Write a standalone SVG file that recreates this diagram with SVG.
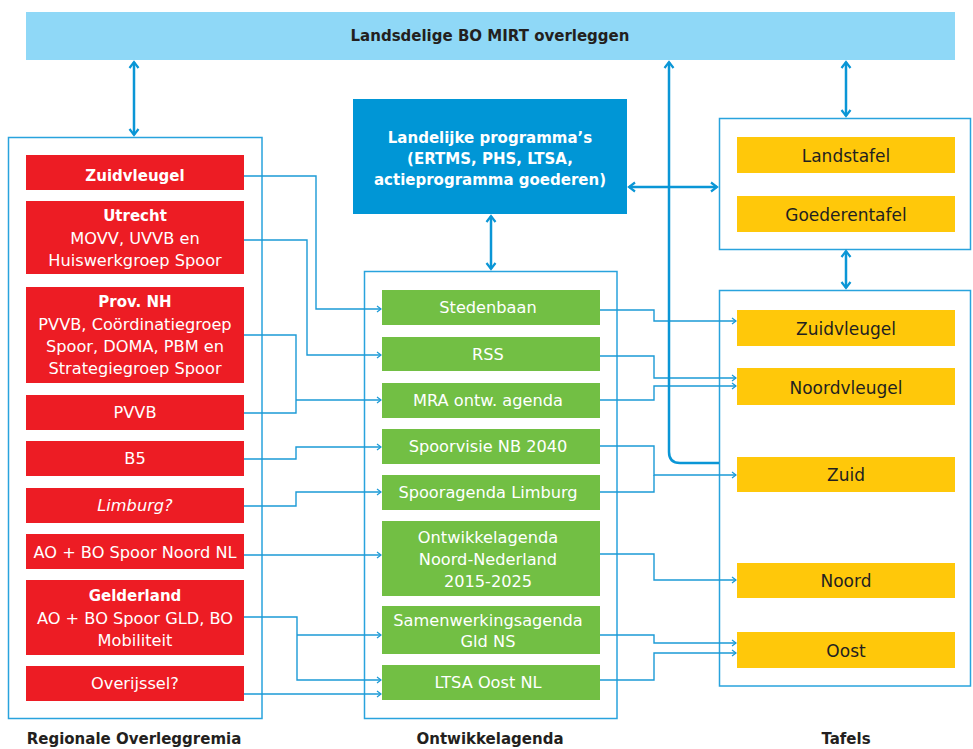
<svg xmlns="http://www.w3.org/2000/svg" width="973" height="749" viewBox="0 0 973 749">
<defs>
<style>
.r{fill:#ed1c24}
.g{fill:#72bf44}
.y{fill:#ffc80a}
.frame{fill:#fff;stroke:#29a3dd;stroke-width:1.5}
.tx{font-family:"DejaVu Sans","Open Sans","Liberation Sans",sans-serif;font-size:16.2px;text-anchor:middle;dominant-baseline:central}
.w{fill:#fff}
.d{fill:#231f20}
.b{font-weight:bold;font-size:15px}
.yt{font-size:17px}
.c{fill:none;stroke:#1b9ad6;stroke-width:1.4}
.ca{marker-end:url(#a)}
.t{fill:none;stroke:#0a96d6;stroke-width:2.5}
.tb{marker-start:url(#b);marker-end:url(#b)}
</style>
<marker id="a" markerWidth="7" markerHeight="8" refX="5.5" refY="4" orient="auto" markerUnits="userSpaceOnUse">
<path d="M1.5,1 L5.5,4 L1.5,7" fill="none" stroke="#1b9ad6" stroke-width="1.2"/>
</marker>
<marker id="b" markerWidth="12" markerHeight="12" refX="9.5" refY="6" orient="auto-start-reverse" markerUnits="userSpaceOnUse">
<path d="M3.5,1.5 L9.5,6 L3.5,10.5" fill="none" stroke="#0a96d6" stroke-width="2.2"/>
</marker>
</defs>
<rect width="973" height="749" fill="#fff"/>

<g id="top">
<rect x="26" y="12" width="929" height="48" fill="#8fd8f7"/>
<text class="tx d b" x="490" y="36">Landsdelige BO MIRT overleggen</text>
</g>

<g id="frames">
<rect id="regio-frame" class="frame" x="8.5" y="137.5" width="253.5" height="581"/>
<rect id="ontw-frame" class="frame" x="364.5" y="271.5" width="252.5" height="447"/>
<rect id="tafel-top-frame" class="frame" x="719.5" y="118.5" width="251" height="131"/>
<rect id="tafel-frame" class="frame" x="719.5" y="290.5" width="251" height="395.5"/>
</g>

<g id="landelijk">
<rect x="353" y="99" width="274" height="115" fill="#0096d6"/>
<text class="tx w b" x="490" y="137.5">Landelijke programma’s<tspan x="490" dy="21">(ERTMS, PHS, LTSA,</tspan><tspan x="490" dy="21">actieprogramma goederen)</tspan></text>
</g>

<g id="regionaal">
<g id="r-zuidvleugel"><rect class="r" x="26" y="155" width="218" height="35"/><text class="tx w b" x="135" y="175.5">Zuidvleugel</text></g>
<g id="r-utrecht"><rect class="r" x="26" y="201" width="218" height="73"/><text class="tx w" x="135" y="216"><tspan class="b">Utrecht</tspan><tspan x="135" dy="22">MOVV, UVVB en</tspan><tspan x="135" dy="21.5">Huiswerkgroep Spoor</tspan></text></g>
<g id="r-nh"><rect class="r" x="26" y="287" width="218" height="96"/><text class="tx w" x="135" y="301.5"><tspan class="b">Prov. NH</tspan><tspan x="135" dy="22">PVVB, Coördinatiegroep</tspan><tspan x="135" dy="22">Spoor, DOMA, PBM en</tspan><tspan x="135" dy="22">Strategiegroep Spoor</tspan></text></g>
<g id="r-pvvb"><rect class="r" x="26" y="395" width="218" height="35"/><text class="tx w" x="135" y="412.5">PVVB</text></g>
<g id="r-b5"><rect class="r" x="26" y="441" width="218" height="35"/><text class="tx w" x="135" y="458.5">B5</text></g>
<g id="r-limburg"><rect class="r" x="26" y="488" width="218" height="35"/><text class="tx w" x="135" y="505.5" font-style="italic">Limburg?</text></g>
<g id="r-noord"><rect class="r" x="26" y="534" width="218" height="35"/><text class="tx w" x="135" y="552">AO + BO Spoor Noord NL</text></g>
<g id="r-gelderland"><rect class="r" x="26" y="580" width="218" height="75"/><text class="tx w" x="135" y="596"><tspan class="b">Gelderland</tspan><tspan x="135" dy="22">AO + BO Spoor GLD, BO</tspan><tspan x="135" dy="21.5">Mobiliteit</tspan></text></g>
<g id="r-overijssel"><rect class="r" x="26" y="666" width="218" height="35"/><text class="tx w" x="135" y="683">Overijssel?</text></g>
</g>

<g id="ontwikkel">
<g id="o-stedenbaan"><rect class="g" x="382" y="290" width="218" height="35"/><text class="tx w" x="488" y="307">Stedenbaan</text></g>
<g id="o-rss"><rect class="g" x="382" y="337" width="218" height="34"/><text class="tx w" x="488" y="354">RSS</text></g>
<g id="o-mra"><rect class="g" x="382" y="383" width="218" height="35"/><text class="tx w" x="488" y="400.5">MRA ontw. agenda</text></g>
<g id="o-nb"><rect class="g" x="382" y="429" width="218" height="35"/><text class="tx w" x="488" y="446.5">Spoorvisie NB 2040</text></g>
<g id="o-limburg"><rect class="g" x="382" y="475" width="218" height="35"/><text class="tx w" x="488" y="492.5">Spooragenda Limburg</text></g>
<g id="o-noord"><rect class="g" x="382" y="521" width="218" height="75"/><text class="tx w" x="488" y="537.5">Ontwikkelagenda<tspan x="488" dy="21.5">Noord-Nederland</tspan><tspan x="488" dy="22">2015-2025</tspan></text></g>
<g id="o-gld"><rect class="g" x="382" y="606" width="218" height="48"/><text class="tx w" x="488" y="620">Samenwerkingsagenda<tspan x="488" dy="21">Gld NS</tspan></text></g>
<g id="o-ltsa"><rect class="g" x="382" y="665" width="218" height="35"/><text class="tx w" x="488" y="682">LTSA Oost NL</text></g>
</g>

<g id="tafels">
<g id="t-land"><rect class="y" x="737" y="137" width="218" height="36"/><text class="tx d yt" x="846" y="156">Landstafel</text></g>
<g id="t-goed"><rect class="y" x="737" y="196" width="218" height="36"/><text class="tx d yt" x="846" y="215">Goederentafel</text></g>
<g id="t-zuidvleugel"><rect class="y" x="737" y="310" width="218" height="36"/><text class="tx d yt" x="846" y="328.5">Zuidvleugel</text></g>
<g id="t-noordvleugel"><rect class="y" x="737" y="368" width="218" height="37"/><text class="tx d yt" x="846" y="388">Noordvleugel</text></g>
<g id="t-zuid"><rect class="y" x="737" y="457" width="218" height="35"/><text class="tx d yt" x="846" y="475">Zuid</text></g>
<g id="t-noord"><rect class="y" x="737" y="563" width="218" height="35"/><text class="tx d yt" x="846" y="580.5">Noord</text></g>
<g id="t-oost"><rect class="y" x="737" y="632" width="218" height="36"/><text class="tx d yt" x="846" y="650.5">Oost</text></g>
</g>

<g id="connectors">
<path class="c ca" d="M244,176 H316 V309 H381"/>
<path class="c ca" d="M244,240 H307 V355 H381"/>
<path class="c" d="M244,335 H296 V413 H244"/>
<path class="c ca" d="M296,400 H381"/>
<path class="c ca" d="M244,459 H296 V447 H381"/>
<path class="c ca" d="M244,506 H296 V492 H381"/>
<path class="c ca" d="M244,555 H381"/>
<path class="c ca" d="M244,617 H297 V680 H381"/>
<path class="c ca" d="M297,635 H381"/>
<path class="c ca" d="M244,694 H381"/>

<path class="c ca" d="M600,310 H654 V321 H736"/>
<path class="c ca" d="M600,356 H654 V378 H736"/>
<path class="c ca" d="M600,400 H654 V386 H736"/>
<path class="c ca" d="M600,446 H654 V475 H736"/>
<path class="c" d="M600,492 H654 V475"/>
<path class="c ca" d="M600,554 H654 V580 H736"/>
<path class="c ca" d="M600,635 H654 V643 H736"/>
<path class="c ca" d="M600,680 H654 V653 H736"/>

<path class="t tb" d="M134,62 V135"/>
<path class="t" marker-start="url(#b)" d="M669,62 V452 Q669,463 680,463 H719"/>
<path class="t tb" d="M846,62 V116"/>
<path class="t tb" d="M846,251 V288"/>
<path class="t tb" d="M491,216 V269"/>
<path class="t tb" d="M629,187 H717"/>
</g>

<g id="labels">
<text class="tx d b" x="134" y="739">Regionale Overleggremia</text>
<text class="tx d b" x="490" y="739">Ontwikkelagenda</text>
<text class="tx d b" x="846" y="739">Tafels</text>
</g>
</svg>
